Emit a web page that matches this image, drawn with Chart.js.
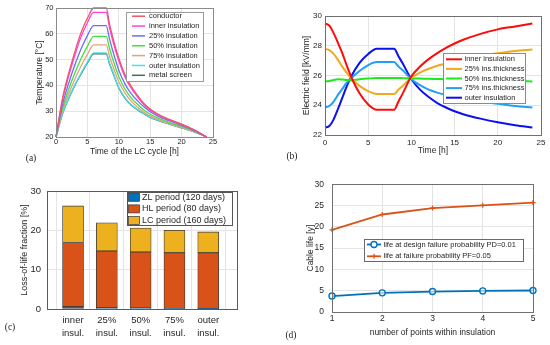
<!DOCTYPE html>
<html>
<head>
<meta charset="utf-8">
<script src="https://cdn.jsdelivr.net/npm/chart.js@4.4.1/dist/chart.umd.min.js"></script>
<style>
html,body{margin:0;padding:0;background:#fff;}
#wrap{position:relative;width:550px;height:345px;overflow:hidden;background:#fff;}
canvas{position:absolute;}
.tag{position:absolute;font:9.5px "Liberation Serif","DejaVu Serif",serif;color:#222;transform:translate(-50%,-50%);white-space:nowrap;}
</style>
</head>
<body>
<div id="wrap">
  <canvas id="chart_a" width="275" height="172" style="left:0;top:0"></canvas>
  <canvas id="chart_b" width="275" height="172" style="left:275px;top:0"></canvas>
  <canvas id="chart_c" width="275" height="173" style="left:0;top:172px"></canvas>
  <canvas id="chart_d" width="275" height="173" style="left:275px;top:172px"></canvas>
  <div class="tag" style="left:31px;top:158px">(a)</div>
  <div class="tag" style="left:292px;top:156px">(b)</div>
  <div class="tag" style="left:10px;top:327px">(c)</div>
  <div class="tag" style="left:291px;top:335px">(d)</div>
</div>
<script>
// ---------- data ----------
// (a) temperature over the LC cycle
const TIME_A = [0, 1, 2, 3, 4, 5, 6, 8, 8.5, 9, 10, 11, 12, 13, 14, 15, 16, 18, 20, 22, 24];
const T_COND  = [20, 34.5, 44.5, 53.0, 60.5, 66.0, 70.0, 70.0, 64.0, 59.0, 50.5, 44.0, 39.5, 36.0, 33.0, 30.8, 29.2, 26.8, 25.0, 22.8, 20];
const T_INNER = [20, 33.9, 43.5, 51.7, 58.9, 64.3, 68.3, 68.3, 62.7, 57.7, 49.5, 43.2, 38.8, 35.5, 32.6, 30.4, 28.9, 26.6, 24.8, 22.7, 20];
const T_25    = [20, 32.2, 40.7, 47.9, 54.2, 59.3, 63.2, 63.2, 58.2, 53.7, 45.9, 40.5, 36.7, 34.0, 31.7, 29.8, 28.4, 26.3, 24.5, 22.5, 20];
const T_50    = [20, 30.8, 38.4, 44.8, 50.4, 55.1, 59.0, 59.0, 54.5, 50.4, 43.4, 38.5, 35.1, 32.6, 30.5, 28.8, 27.6, 25.7, 24.1, 22.3, 20];
const T_75    = [20, 29.8, 36.6, 42.4, 47.5, 52.0, 55.7, 55.7, 51.5, 47.8, 41.4, 37.0, 33.8, 31.5, 29.6, 28.1, 27.0, 25.2, 23.7, 22.1, 20];
const T_OUTER = [20, 28.8, 35.0, 40.2, 44.8, 49.0, 52.6, 52.6, 48.8, 45.6, 39.2, 35.2, 32.5, 30.6, 29.1, 27.7, 26.7, 25.1, 23.6, 22.0, 20];
const T_METAL = [20, 28.7, 34.8, 40.0, 44.5, 48.7, 52.2, 52.2, 48.5, 45.3, 39.0, 35.0, 32.3, 30.5, 29.0, 27.6, 26.6, 25.0, 23.5, 22.0, 20];
const LABELS_A = ['conductor', 'inner insulation', '25% insulation', '50% insulation', '75% insulation', 'outer insulation', 'metal screen'];

// (b) electric field
const TIME_B = [0, 0.5, 1, 1.5, 2, 2.5, 3, 4, 5, 6, 8, 8.5, 9, 10, 11, 12, 13, 14, 15, 16, 18, 20, 22, 24];
const E_INNER = [29.5, 29.35, 28.85, 28.2, 27.5, 26.7, 25.95, 24.8, 24.05, 23.7, 23.7, 24.25, 24.8, 25.95, 26.6, 27.1, 27.5, 27.85, 28.15, 28.4, 28.8, 29.1, 29.3, 29.5];
const E_25    = [27.8, 27.7, 27.45, 27.05, 26.6, 26.2, 25.85, 25.3, 24.95, 24.75, 24.75, 25.05, 25.3, 25.85, 26.2, 26.45, 26.65, 26.8, 26.95, 27.1, 27.35, 27.5, 27.65, 27.75];
const E_50    = [25.6, 25.63, 25.7, 25.75, 25.73, 25.69, 25.67, 25.75, 25.8, 25.83, 25.83, 25.83, 25.82, 25.8, 25.79, 25.78, 25.76, 25.74, 25.72, 25.71, 25.68, 25.65, 25.62, 25.6];
const E_75    = [23.85, 23.95, 24.25, 24.7, 25.1, 25.5, 25.8, 26.3, 26.7, 26.9, 26.9, 26.6, 26.35, 25.75, 25.35, 25.05, 24.85, 24.7, 24.55, 24.45, 24.25, 24.1, 23.95, 23.85];
const E_OUTER = [22.5, 22.6, 23.05, 23.75, 24.5, 25.25, 25.9, 26.85, 27.45, 27.8, 27.8, 27.3, 26.8, 25.75, 25.05, 24.55, 24.15, 23.85, 23.6, 23.4, 23.1, 22.85, 22.65, 22.5];
const LABELS_B = ['inner insulation', '25% ins.thickness', '50% ins.thickness', '75% ins.thickness', 'outer insulation'];

// (c) loss-of-life fractions
const BAR_POS = [1, 2, 3, 4, 5];
const BAR_CATS = [['inner', 'insul.'], ['25%', 'insul.'], ['50%', 'insul.'], ['75%', 'insul.'], ['outer', 'insul.']];
const LOL_ZL = [0.6, 0.3, 0.25, 0.15, 0.1];
const LOL_HL = [16.3, 14.45, 14.25, 14.15, 14.2];
const LOL_LC = [9.3, 7.15, 6.1, 5.7, 5.3];

// (d) cable life
const N_POINTS = [1, 2, 3, 4, 5];
const LIFE_PD = [3.75, 4.5, 4.8, 4.95, 5.05];
const LIFE_PF = [19.3, 22.9, 24.4, 25.05, 25.7];

// ---------- helpers ----------
const FONT = '"Liberation Sans", Arial, sans-serif';
const TXT = '#262626';
const GRID = '#e4e4e4';
const pts = (xs, ys) => xs.map((x, i) => ({x, y: ys[i]}));

// matlab-like axes box
const axesBox = {
  id: 'axesBox',
  afterDatasetsDraw(chart, args, o) {
    const {ctx, chartArea: a} = chart;
    ctx.save();
    ctx.strokeStyle = o.color || '#666';
    ctx.lineWidth = 1;
    ctx.strokeRect(Math.round(a.left) + 0.5, Math.round(a.top) + 0.5, Math.round(a.right - a.left), Math.round(a.bottom - a.top));
    ctx.restore();
  }
};

// legend box placed inside the axes
const boxLegend = {
  id: 'boxLegend',
  afterDraw(chart, args, o) {
    if (o.x == null) return;
    const ctx = chart.ctx;
    ctx.save();
    ctx.fillStyle = '#fff';
    ctx.fillRect(o.x, o.y, o.w, o.h);
    ctx.strokeStyle = o.edge;
    ctx.lineWidth = 1;
    ctx.strokeRect(o.x + 0.5, o.y + 0.5, o.w, o.h);
    ctx.font = o.txtFont;
    ctx.textBaseline = 'middle';
    ctx.textAlign = 'left';
    chart.data.datasets.forEach((ds, i) => {
      const y = o.row0 + i * o.dy;
      if (o.kind === 'patch') {
        ctx.fillStyle = ds.backgroundColor;
        ctx.fillRect(o.s0, y - o.ph / 2, o.s1 - o.s0, o.ph);
        ctx.strokeStyle = '#333';
        ctx.lineWidth = 0.7;
        ctx.strokeRect(o.s0, y - o.ph / 2, o.s1 - o.s0, o.ph);
      } else {
        ctx.strokeStyle = ds.borderColor;
        ctx.lineWidth = o.lw;
        ctx.beginPath(); ctx.moveTo(o.s0, y); ctx.lineTo(o.s1, y); ctx.stroke();
        if (o.kind === 'marker') {
          ctx.fillStyle = '#fff';
          ctx.strokeStyle = ds.borderColor;
          ctx.lineWidth = ds.pointBorderWidth;
          Chart.helpers.drawPoint(ctx, {pointStyle: ds.pointStyle, radius: ds.pointRadius, borderWidth: ds.pointBorderWidth, rotation: 0}, (o.s0 + o.s1) / 2, y);
        }
      }
      ctx.fillStyle = TXT;
      ctx.fillText(ds.label, o.tx, y);
    });
    ctx.restore();
  }
};
Chart.register(axesBox, boxLegend);

function axis(opt) {
  return {
    type: 'linear', min: opt.min, max: opt.max,
    afterBuildTicks: opt.tickVals ? (s => { s.ticks = opt.tickVals.map(v => ({value: v})); }) : undefined,
    afterFit: s => { if (opt.w != null) s.width = opt.w; if (opt.h != null) s.height = opt.h; },
    ticks: {stepSize: opt.step, color: TXT, padding: opt.tpad, font: {family: FONT, size: opt.tsize, lineHeight: opt.tlh || 1},
            maxRotation: 0, autoSkip: false, callback: opt.cb || (v => String(v))},
    grid: {color: GRID, drawTicks: false, lineWidth: 1},
    border: {display: false},
    title: {display: !!opt.title, text: opt.title, color: TXT, font: {family: FONT, size: opt.titleSize, lineHeight: 1}, padding: opt.titlePad}
  };
}

function lineSet(label, xs, ys, color, lw) {
  return {label, data: pts(xs, ys), borderColor: color, backgroundColor: color, borderWidth: lw,
          pointRadius: 0, cubicInterpolationMode: 'monotone', clip: 3, fill: false};
}

const baseOpts = {responsive: false, animation: false, events: []};

// ---------- (a) temperature ----------
const COLORS_A = ['#f05468', '#ff3fe6', '#6d6df2', '#3fe03f', '#f09c7c', '#3fe6e6', '#3f6b6b'];
new Chart(document.getElementById('chart_a'), {
  type: 'line',
  data: {datasets: [T_COND, T_INNER, T_25, T_50, T_75, T_OUTER, T_METAL].map((s, i) => lineSet(LABELS_A[i], TIME_A, s, COLORS_A[i], 1.3))},
  options: {...baseOpts,
    layout: {padding: {left: 0, top: 8, right: 62, bottom: 0}},
    scales: {
      x: axis({min: 0, max: 25, step: 5, h: 35, tsize: 7.5, tpad: 1, title: 'Time of the LC cycle [h]', titleSize: 8.5, titlePad: {top: 0, bottom: 16.2}}),
      y: axis({min: 20, max: 70, step: 10, w: 56, tsize: 7.5, tpad: 2.5, title: 'Temperature [°C]', titleSize: 8.5, titlePad: {top: 35.7, bottom: 0}})
    },
    plugins: {legend: {display: false}, tooltip: {enabled: false},
      axesBox: {color: '#8a8a8a'},
      boxLegend: {x: 126, y: 12, w: 77, h: 69, row0: 16.2, dy: 9.85, s0: 132, s1: 145, tx: 149, lw: 1.5, kind: 'line', txtFont: '7.5px ' + FONT, edge: '#9a9a9a'}
    }
  }
});

// ---------- (b) electric field ----------
const COLORS_B = ['#ff0a0a', '#f2a81d', '#1ee81e', '#20a0f5', '#0a10f0'];
new Chart(document.getElementById('chart_b'), {
  type: 'line',
  data: {datasets: [E_INNER, E_25, E_50, E_75, E_OUTER].map((s, i) => lineSet(LABELS_B[i], TIME_B, s, COLORS_B[i], 2))},
  options: {...baseOpts,
    layout: {padding: {left: 0, top: 16, right: 9, bottom: 0}},
    scales: {
      x: axis({min: 0, max: 25, step: 5, h: 37, tsize: 8, tpad: 4, title: 'Time [h]', titleSize: 8.5, titlePad: {top: 0, bottom: 16.7}}),
      y: axis({min: 22, max: 30, step: 2, w: 50, tsize: 8, tpad: 3, title: 'Electric field [kV/mm]', titleSize: 8.5, titlePad: {top: 27.4, bottom: 0}})
    },
    plugins: {legend: {display: false}, tooltip: {enabled: false},
      axesBox: {color: '#6f6f6f'},
      boxLegend: {x: 168, y: 53, w: 82, h: 50, row0: 59.3, dy: 9.6, s0: 171, s1: 187, tx: 189.5, lw: 2, kind: 'line', txtFont: '7.5px ' + FONT, edge: '#8a8a8a'}
    }
  }
});

// ---------- (c) loss-of-life fraction ----------
const barSet = (label, ys, color) => ({label, data: pts(BAR_POS, ys), backgroundColor: color, borderColor: '#3a3a3a',
  borderWidth: 0.8, borderSkipped: false, barThickness: 21});
new Chart(document.getElementById('chart_c'), {
  type: 'bar',
  data: {datasets: [
    barSet('ZL period (120 days)', LOL_ZL, '#0072bd'),
    barSet('HL period (80 days)', LOL_HL, '#d95319'),
    barSet('LC period (160 days)', LOL_LC, '#edb120')
  ]},
  options: {...baseOpts,
    layout: {padding: {left: 0, top: 19, right: 38, bottom: 0}},
    scales: {
      x: {...axis({min: 0.23, max: 5.85, h: 36, tsize: 9.5, tlh: 1.37, tpad: 4.5, tickVals: BAR_POS,
                  cb: v => BAR_CATS[BAR_POS.indexOf(v)] || ''}), stacked: true, offset: false},
      y: {...axis({min: 0, max: 30, step: 10, w: 47, tsize: 9.5, tpad: 6, title: 'Loss-of-life fraction [%]', titleSize: 9, titlePad: {top: 20.5, bottom: 0}}), stacked: true}
    },
    plugins: {legend: {display: false}, tooltip: {enabled: false},
      axesBox: {color: '#5a5a5a'},
      boxLegend: {x: 127, y: 20, w: 105, h: 33, row0: 25.3, dy: 11.6, s0: 128.5, s1: 139.5, ph: 8, tx: 142, kind: 'patch', txtFont: '9px ' + FONT, edge: '#555'}
    }
  }
});

// ---------- (d) cable life ----------
new Chart(document.getElementById('chart_d'), {
  type: 'line',
  data: {datasets: [
    {label: 'life at design failure probability PD=0.01', data: pts(N_POINTS, LIFE_PD), borderColor: '#0072bd', backgroundColor: '#0072bd',
     borderWidth: 1.8, pointStyle: 'circle', pointRadius: 3, pointBorderWidth: 1.4, pointBackgroundColor: 'rgba(255,255,255,0.6)', tension: 0, clip: false},
    {label: 'life at failure probability PF=0.05', data: pts(N_POINTS, LIFE_PF), borderColor: '#d95319', backgroundColor: '#d95319',
     borderWidth: 1.8, pointStyle: 'cross', pointRadius: 2.5, pointBorderWidth: 1.2, tension: 0, clip: false}
  ]},
  options: {...baseOpts,
    layout: {padding: {left: 0, top: 7, right: 17, bottom: 0}},
    scales: {
      x: axis({min: 1, max: 5, step: 1, h: 33, tsize: 8.5, tpad: 2.5, title: 'number of points within insulation', titleSize: 8.5, titlePad: {top: 0, bottom: 7.7}}),
      y: axis({min: 0, max: 30, step: 5, w: 57, tsize: 8.5, tpad: 8, title: 'Cable life [y]', titleSize: 8.5, titlePad: {top: 31, bottom: 0}})
    },
    plugins: {legend: {display: false}, tooltip: {enabled: false},
      axesBox: {color: '#6f6f6f'},
      boxLegend: {x: 89, y: 67, w: 159, h: 22, row0: 72.5, dy: 11.8, s0: 92, s1: 106, tx: 108.5, lw: 1.8, kind: 'marker', txtFont: '7.5px ' + FONT, edge: '#6a6a6a'}
    }
  }
});
</script>
</body>
</html>
